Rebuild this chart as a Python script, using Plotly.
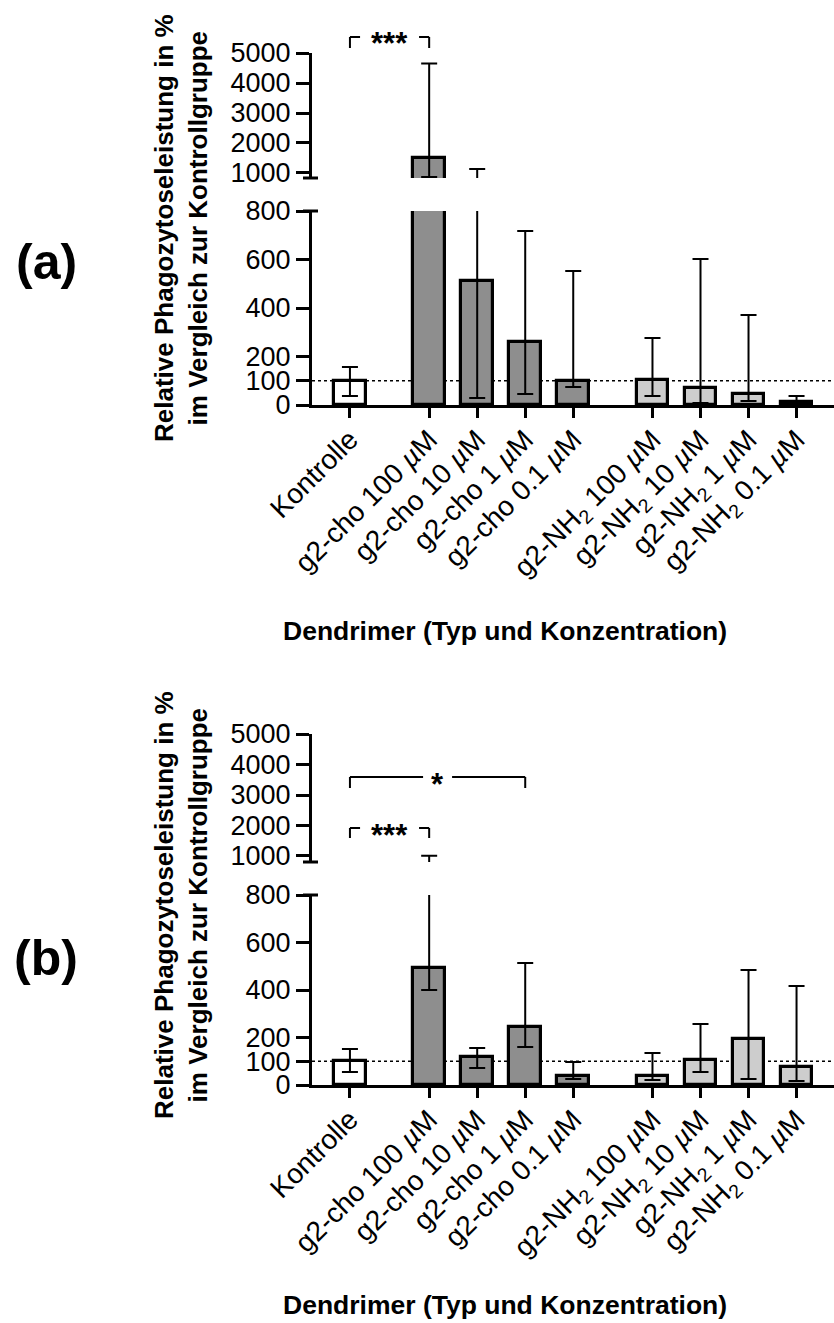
import plotly.graph_objects as go

# ---------------- data ----------------
categories = [
    "Kontrolle",
    "g2-cho 100 <i>µ</i>M", "g2-cho 10 <i>µ</i>M", "g2-cho 1 <i>µ</i>M", "g2-cho 0.1 <i>µ</i>M",
    "g2-NH<sub>2</sub> 100 <i>µ</i>M", "g2-NH<sub>2</sub> 10 <i>µ</i>M",
    "g2-NH<sub>2</sub> 1 <i>µ</i>M", "g2-NH<sub>2</sub> 0.1 <i>µ</i>M",
]
groups = [0, 1, 1, 1, 1, 2, 2, 2, 2]

# panel (a): mean, upper end of error bar, lower end of error bar
mean_a = [100, 1500, 510, 260, 100, 103, 70, 45, 12]
upper_a = [157, 4650, 1130, 718, 553, 276, 602, 371, 37]
lower_a = [37, 870, 29, 45, 74, 37, 8, 17, 0]

# panel (b)
mean_b = [100, 493, 118, 244, 38, 38, 105, 194, 76]
upper_b = [152, 1010, 156, 514, 97, 135, 257, 484, 417]
lower_b = [55, 400, 72, 160, 25, 21, 55, 25, 17]

lower_ticks = [0, 100, 200, 400, 600, 800]
upper_ticks = [1000, 2000, 3000, 4000, 5000]

# ---------------- styling / layout ----------------
W, H = 834, 1323
FONT = "Liberation Sans, Arial, Helvetica, sans-serif"
group_colors = ["#ffffff", "#8e8e8e", "#cdcdcd"]
GROUP_GAP = 0.65
X_RANGE = [-0.79, 10.08]
X_LEFT_PX = 312
UNIT_PX = (W - X_LEFT_PX) / (X_RANGE[1] - X_RANGE[0])


def pxx(p):
    return p / W


def pxy(p):
    return 1 - p / H


pos = [i + GROUP_GAP * g for i, g in enumerate(groups)]
colors = [group_colors[g] for g in groups]

panels = [
    dict(mean=mean_a, upper=upper_a, lower=lower_a, xa="x", ylo="y", yhi="y2",
         lo_dom=(405, 211), hi_dom=(178, 53), hi_min=833,
         label="(a)", label_y=262, title_y=228, xtitle_y=631,
         brackets=[(0, 1, "***", 37, 11)]),
    dict(mean=mean_b, upper=upper_b, lower=lower_b, xa="x2", ylo="y3", yhi="y4",
         lo_dom=(1085, 895), hi_dom=(862, 734), hi_min=803,
         label="(b)", label_y=958, title_y=905, xtitle_y=1305,
         brackets=[(0, 1, "***", 828, 10), (0, 3, "*", 777, 11)]),
]

fig = go.Figure()
shapes = []
annotations = []
layout_axes = {}

for k, p in enumerate(panels):
    plus = [u - m for u, m in zip(p["upper"], p["mean"])]
    minus = [m - l for m, l in zip(p["mean"], p["lower"])]
    for ya in (p["ylo"], p["yhi"]):
        fig.add_trace(go.Bar(
            x=pos, y=p["mean"], width=0.66,
            marker=dict(color=colors, line=dict(color="black", width=3.2)),
            error_y=dict(type="data", symmetric=False, array=plus, arrayminus=minus,
                         color="black", thickness=2, width=8),
            xaxis=p["xa"], yaxis=ya, showlegend=False, hoverinfo="skip",
        ))

    xname = "xaxis" if p["xa"] == "x" else "xaxis" + p["xa"][1:]
    yloname = "yaxis" if p["ylo"] == "y" else "yaxis" + p["ylo"][1:]
    yhiname = "yaxis" + p["yhi"][1:]

    common = dict(showline=True, linecolor="black", linewidth=3, ticks="outside",
                  tickwidth=3, tickcolor="black", showgrid=False, zeroline=False,
                  automargin=False,
                  tickfont=dict(family=FONT, size=27, color="black"))
    layout_axes[xname] = dict(
        domain=[pxx(X_LEFT_PX), 1], range=X_RANGE, anchor=p["ylo"],
        tickmode="array", tickvals=pos, ticktext=categories, tickangle=-45,
        showline=True, linecolor="black", linewidth=3, ticks="outside", ticklen=10,
        tickwidth=3, tickcolor="black", showgrid=False, zeroline=False, automargin=False,
        ticklabelstandoff=-6,
        tickfont=dict(family=FONT, size=28, color="black"),
    )
    layout_axes[yloname] = dict(
        domain=[pxy(p["lo_dom"][0]), pxy(p["lo_dom"][1])], range=[0, 800],
        anchor=p["xa"], tickmode="array", tickvals=lower_ticks, ticklen=13, **common)
    layout_axes[yhiname] = dict(
        domain=[pxy(p["hi_dom"][0]), pxy(p["hi_dom"][1])], range=[p["hi_min"], 5000],
        anchor=p["xa"], tickmode="array", tickvals=upper_ticks, ticklen=13, **common)

    # dotted reference line at 100 %
    shapes.append(dict(type="line", xref=p["xa"] + " domain", yref=p["ylo"],
                       x0=0, x1=1, y0=100, y1=100, layer="below",
                       line=dict(color="black", width=1.5, dash="dot")))
    # axis-break marks
    for ypx in (p["hi_dom"][0], p["lo_dom"][1]):
        shapes.append(dict(type="line", xref="paper", yref="paper",
                           x0=pxx(X_LEFT_PX - 9), x1=pxx(X_LEFT_PX + 6),
                           y0=pxy(ypx), y1=pxy(ypx), line=dict(color="black", width=3)))

    # significance brackets
    for i0, i1, txt, ypx, drop in p["brackets"]:
        xa0, xa1 = pos[i0], pos[i1]
        mid = (xa0 + xa1) / 2
        half = (7 + 7.5 * len(txt)) / UNIT_PX
        lw = dict(color="black", width=2)
        for (a, b) in ((xa0, mid - half), (mid + half, xa1)):
            shapes.append(dict(type="line", xref=p["xa"], yref="paper",
                               x0=a, x1=b, y0=pxy(ypx), y1=pxy(ypx), line=lw))
        for xx in (xa0, xa1):
            shapes.append(dict(type="line", xref=p["xa"], yref="paper",
                               x0=xx, x1=xx, y0=pxy(ypx), y1=pxy(ypx + drop), line=lw))
        annotations.append(dict(text="<b>" + txt + "</b>", x=mid, y=pxy(ypx + 7),
                                xref=p["xa"], yref="paper",
                                showarrow=False, xanchor="center", yanchor="middle",
                                font=dict(family=FONT, size=31, color="black")))

    # y title
    annotations.append(dict(
        text="<b>Relative Phagozytoseleistung in %</b><br><b>im Vergleich zur Kontrollgruppe</b>",
        x=pxx(181), y=pxy(p["title_y"]), xref="paper", yref="paper", textangle=-90,
        showarrow=False, xanchor="center", yanchor="middle",
        font=dict(family=FONT, size=26, color="black")))
    # x title
    annotations.append(dict(
        text="<b>Dendrimer (Typ und Konzentration)</b>",
        x=pxx(505), y=pxy(p["xtitle_y"]), xref="paper", yref="paper",
        showarrow=False, xanchor="center", yanchor="middle",
        font=dict(family=FONT, size=26.5, color="black")))
    # panel label
    annotations.append(dict(
        text="<b>" + p["label"] + "</b>", x=pxx(46), y=pxy(p["label_y"]),
        xref="paper", yref="paper", showarrow=False, xanchor="center", yanchor="middle",
        font=dict(family=FONT, size=50, color="black")))

fig.update_layout(
    width=W, height=H, autosize=False,
    margin=dict(l=0, r=0, t=0, b=0, pad=0, autoexpand=False),
    paper_bgcolor="white", plot_bgcolor="white",
    font=dict(family=FONT, color="black"),
    bargap=0, showlegend=False,
    shapes=shapes, annotations=annotations,
    **layout_axes,
)

fig.write_html("out.html")
